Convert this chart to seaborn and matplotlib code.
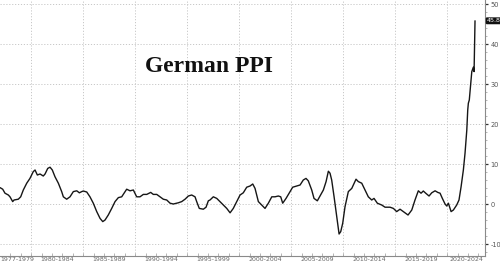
import numpy as np
import pandas as pd
import matplotlib
matplotlib.use("Agg")
import matplotlib.pyplot as plt
import seaborn as sns
from matplotlib.ticker import MultipleLocator, FixedLocator

# ---- data ----
years = [1977.00, 1977.26, 1977.48, 1977.80, 1977.96, 1978.22, 1978.35, 1978.76, 1978.99,
         1979.24, 1979.57, 1979.88, 1980.20, 1980.37, 1980.59, 1980.85, 1981.16, 1981.33,
         1981.59, 1981.81, 1982.03, 1982.29, 1982.61, 1982.93, 1983.09, 1983.41, 1983.73,
         1984.05, 1984.38, 1984.63, 1984.86, 1985.01, 1985.34, 1985.65, 1985.97, 1986.30,
         1986.62, 1986.88, 1987.10, 1987.41, 1987.74, 1988.06, 1988.38, 1988.70, 1989.02,
         1989.18, 1989.50, 1989.82, 1990.14, 1990.46, 1990.78, 1991.11, 1991.49, 1991.74,
         1992.07, 1992.38, 1992.70, 1993.03, 1993.35, 1993.66, 1994.14, 1994.47, 1994.79,
         1995.11, 1995.43, 1995.75, 1995.91, 1996.16, 1996.55, 1996.81, 1997.03, 1997.19,
         1997.51, 1997.84, 1998.15, 1998.47, 1998.80, 1999.12, 1999.43, 1999.76, 2000.08,
         2000.39, 2000.72, 2001.04, 2001.30, 2001.52, 2001.84, 2002.16, 2002.48, 2002.80,
         2003.13, 2003.44, 2003.76, 2003.99, 2004.18, 2004.50, 2004.82, 2005.14, 2005.53,
         2005.85, 2006.16, 2006.42, 2006.64, 2006.97, 2007.19, 2007.51, 2007.77, 2008.09,
         2008.35, 2008.57, 2008.73, 2008.89, 2009.12, 2009.38, 2009.60, 2009.76, 2009.95,
         2010.17, 2010.49, 2010.82, 2011.23, 2011.45, 2011.78, 2012.10, 2012.41, 2012.74,
         2012.96, 2013.28, 2013.70, 2014.02, 2014.50, 2014.82, 2015.14, 2015.46, 2015.78,
         2016.23, 2016.59, 2016.90, 2017.22, 2017.48, 2017.70, 2017.93, 2018.25, 2018.51,
         2018.83, 2019.09, 2019.31, 2019.53, 2019.79, 2019.95, 2020.11, 2020.37, 2020.59,
         2020.91, 2021.13, 2021.33, 2021.55, 2021.71, 2021.88, 2021.97, 2022.03, 2022.12,
         2022.26, 2022.36, 2022.51, 2022.58, 2022.67]
ppi_yoy = [4.1, 3.7, 2.7, 2.25, 1.8, 0.6, 1.0, 1.2, 1.8,
           3.5, 5.2, 6.4, 8.1, 8.5, 7.25, 7.5, 7.0, 7.5,
           8.9, 9.2, 8.5, 6.8, 5.2, 3.1, 1.8, 1.2, 1.8,
           3.1, 3.3, 2.8, 3.1, 3.25, 3.0, 1.8, 0.2, -1.9,
           -3.6, -4.4, -4.0, -2.75, -1.1, 0.6, 1.6, 1.8, 3.1,
           3.7, 3.3, 3.5, 1.8, 1.8, 2.4, 2.4, 2.9, 2.4,
           2.4, 1.8, 1.2, 1.0, 0.2, 0.0, 0.3, 0.6, 1.2,
           2.0, 2.25, 1.8, 0.6, -1.1, -1.3, -0.8, 0.8, 1.0,
           1.8, 1.4, 0.6, -0.25, -1.1, -2.2, -1.1, 0.6, 2.25,
           2.8, 4.2, 4.5, 5.0, 3.9, 0.6, -0.25, -1.1, 0.2,
           1.8, 1.8, 2.0, 1.8, 0.2, 1.4, 2.8, 4.2, 4.5,
           4.75, 6.0, 6.4, 5.8, 3.5, 1.4, 0.8, 2.0, 3.5,
           5.6, 8.2, 7.7, 6.0, 1.8, -3.2, -7.5, -6.9, -4.8,
           -0.7, 3.1, 3.9, 6.2, 5.6, 5.2, 3.5, 1.8, 1.0,
           1.4, 0.2, -0.25, -0.8, -0.8, -1.1, -1.9, -1.3, -1.9,
           -2.75, -1.5, 1.0, 3.3, 2.7, 3.25, 2.7, 2.0, 2.8,
           3.3, 2.9, 2.7, 1.4, 0.0, -0.5, 0.2, -1.9, -1.5,
           -0.25, 1.0, 4.3, 8.5, 12.7, 18.5, 23.5, 25.2, 26.0,
           30.2, 33.1, 34.2, 33.1, 45.8]
period_labels = ["1977-1979", "1980-1984", "1985-1989", "1990-1994", "1995-1999",
                 "2000-2004", "2005-2009", "2010-2014", "2015-2019", "2020-2024"]
period_bounds = [1977, 1980, 1985, 1990, 1995, 2000, 2005, 2010, 2015, 2020, 2023.63]
y_ticks = [-10, 0, 10, 20, 30, 40, 50]
title_text = "German PPI"
last_label = "45.8"

df = pd.DataFrame({"year": years, "value": ppi_yoy})

sns.set_style("white")
fig = plt.figure(figsize=(5.0, 2.69), dpi=100)
ax = fig.add_axes([0.0, 0.0483, 0.97, 0.9517])

sns.lineplot(data=df, x="year", y="value", ax=ax, color="#161616", linewidth=1.0)

xmin, xmax = 1977.0, 2023.63
ax.set_xlim(xmin, xmax)
ax.set_ylim(-13, 51)

# grid
grid_kw = dict(color="#c8c8c8", linestyle=(0, (1.2, 1.8)), linewidth=0.7, zorder=0)
for yv in y_ticks:
    ax.axhline(yv, **grid_kw)
for xv in period_bounds[1:-1]:
    ax.axvline(xv, **grid_kw)

# spines
for s in ["left", "top"]:
    ax.spines[s].set_visible(False)
for s in ["right", "bottom"]:
    ax.spines[s].set_color("#8a8a8a")
    ax.spines[s].set_linewidth(0.8)

# y axis on the right
ax.yaxis.tick_right()
ax.set_yticks(y_ticks)
ax.set_yticklabels([str(v) for v in y_ticks])
ax.yaxis.set_minor_locator(MultipleLocator(2))
ax.tick_params(axis="y", which="major", direction="out", length=2.5, width=0.9,
               color="#333333", labelsize=4.8, labelcolor="#555555", pad=1.5)
ax.tick_params(axis="y", which="minor", direction="out", length=1.2, width=0.5,
               color="#999999")

# x axis: year ticks inward, period labels centered
ax.xaxis.set_minor_locator(FixedLocator(np.arange(1978, 2024, 1)))
ax.set_xticks([])
ax.tick_params(axis="x", which="minor", direction="in", length=2.0, width=0.5,
               color="#999999", bottom=True)
for i, lab in enumerate(period_labels):
    if i == 0:
        ax.text(period_bounds[0] + 0.05, -0.005, lab, transform=ax.get_xaxis_transform(),
                ha="left", va="top", fontsize=4.5, color="#666666", clip_on=False)
        continue
    c = (period_bounds[i] + period_bounds[i + 1]) / 2
    ax.text(c, -0.005, lab, transform=ax.get_xaxis_transform(), ha="center", va="top",
            fontsize=4.5, color="#666666", clip_on=False)
ax.set_xlabel("")
ax.set_ylabel("")

# title
ax.text(0.43, 0.74, title_text, transform=ax.transAxes, ha="center", va="center",
        fontsize=17, fontweight="bold", family="Liberation Serif", color="#111111")

# last value label
ax.annotate(last_label, xy=(1.0, ppi_yoy[-1]), xycoords=ax.get_yaxis_transform(),
            xytext=(1.2, 0), textcoords="offset points", ha="left", va="center",
            fontsize=4.6, color="white", annotation_clip=False,
            bbox=dict(boxstyle="round,pad=0.15,rounding_size=0.2", fc="#111111", ec="none"))

fig.savefig("out.png", dpi=100)
